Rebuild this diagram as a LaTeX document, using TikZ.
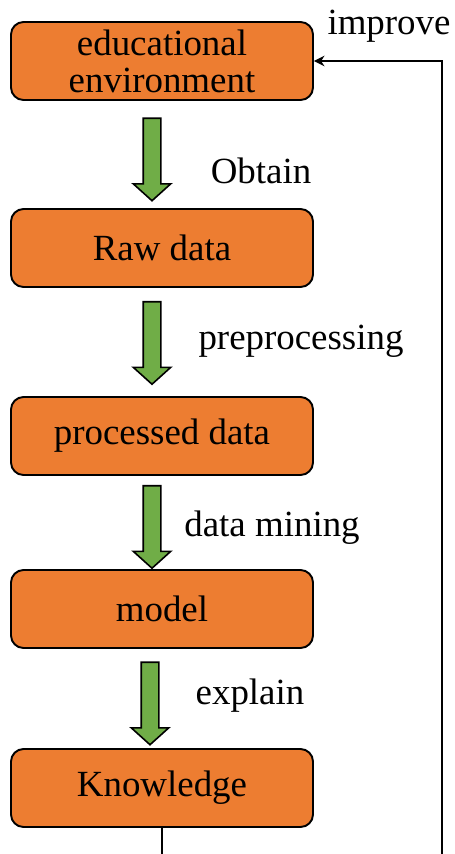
\documentclass[tikz,border=0pt]{standalone}
\usepackage{fontspec}
\setmainfont{Liberation Serif}
\usetikzlibrary{arrows.meta,shapes.arrows}
\definecolor{boxorange}{HTML}{ED7D31}
\definecolor{arrowgreen}{HTML}{70AD47}
\tikzset{>={Stealth[length=6pt,width=6pt]}}
\tikzset{
    stage/.style={rectangle,rounded corners=0.25cm,draw,line width=1.1pt,fill=boxorange,
        minimum width=6.04cm,minimum height=1.56cm,align=center,inner sep=0pt},
    flow/.style={single arrow,draw,line width=0.9pt,fill=arrowgreen,rotate=-90,
        minimum height=1.65cm,inner xsep=0pt,inner ysep=0.16cm,single arrow head extend=0.2cm,
        single arrow tip angle=96},
    steplabel/.style={anchor=base},
    feedback/.style={line width=1.1pt,->},
}
\begin{document}
\begin{tikzpicture}[font=\fontsize{21}{21}\selectfont]
    \useasboundingbox (0,0) rectangle (9.08,-17.08);
    \clip (0,0) rectangle (9.08,-17.08);

    % stages
    \node[stage] (env) at (3.24,-1.22) {educational\\environment};
    \node[stage] (raw) at (3.24,-4.96) {Raw data};
    \node[stage] (proc) at (3.24,-8.72) {processed data};
    \node[stage] (model) at (3.24,-12.18) {model};
    \node[stage] (know) at (3.24,-15.76) {Knowledge};

    % green arrows between stages
    \node[flow] (a1) at (3.04,-3.11) {};
    \node[flow] (a2) at (3.04,-6.78) {};
    \node[flow] (a3) at (3.04,-10.46) {};
    \node[flow] (a4) at (3.00,-13.99) {};

    \node[steplabel] (l1) at (5.22,-3.66) {Obtain};
    \node[steplabel] (l2) at (6.02,-6.98) {preprocessing};
    \node[steplabel] (l3) at (5.44,-10.72) {data mining};
    \node[steplabel] (l4) at (5.00,-14.08) {explain};
    \node[steplabel] (l5) at (7.78,-0.68) {improve};

    % loop back
    \coordinate (corner) at (8.84,-17.6);
    \draw[feedback] (know.south) |- (corner) |- (env.east);
\end{tikzpicture}
\end{document}
